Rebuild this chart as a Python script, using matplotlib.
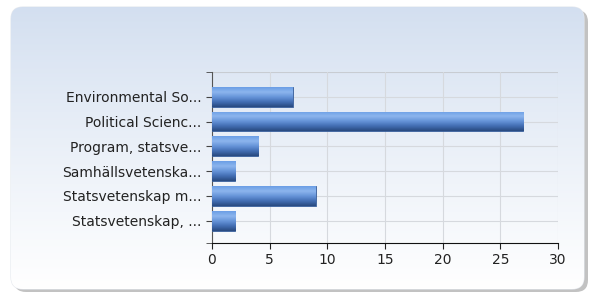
import matplotlib.pyplot as plt
import numpy as np
from matplotlib.patches import FancyBboxPatch

# data
labels = ['Environmental So...', 'Political Scienc...', 'Program, statsve...',
          'Samhällsvetenska...', 'Statsvetenskap m...', 'Statsvetenskap, ...']
values = [7, 27, 4, 2, 9, 2]
x_ticks = [0, 5, 10, 15, 20, 25, 30]

fig = plt.figure(figsize=(5.94, 2.96), dpi=100)

# rounded panel with gradient and a little shadow
bg = fig.add_axes([0, 0, 1, 1])
bg.set_xlim(0, 594)
bg.set_ylim(296, 0)
bg.axis('off')
shadow = FancyBboxPatch((14, 10), 574, 282, boxstyle='round,pad=0,rounding_size=12',
                        facecolor='#9a9a9a', edgecolor='none', alpha=0.6)
bg.add_patch(shadow)
panel = FancyBboxPatch((11, 7), 573, 282, boxstyle='round,pad=0,rounding_size=12',
                       facecolor='white', edgecolor='#e4e8ee', lw=0.8)
bg.add_patch(panel)
grad = np.linspace(0, 1, 256).reshape(-1, 1)
top = np.array([0.827, 0.874, 0.941])
bot = np.array([1.0, 1.0, 1.0])
img = top + (bot - top) * grad[..., None] ** 0.9
im = bg.imshow(img, extent=(11, 584, 289, 7), aspect='auto', zorder=2)
im.set_clip_path(panel)

ax = fig.add_axes([212 / 594, 1 - 243 / 296, 346 / 594, 171 / 296])
ax.patch.set_alpha(0)

y = np.arange(len(labels))
bars = ax.barh(y, values, height=0.8, color='#4a78c0', edgecolor='#3a5f9a', lw=0.6, zorder=3)

# vertical shading for each bar
shade = np.array([[0.42, 0.62, 0.90], [0.55, 0.71, 0.93], [0.40, 0.58, 0.85],
                  [0.26, 0.43, 0.70], [0.16, 0.29, 0.50]])
ramp = np.linspace(0, 1, 64)
cols = np.stack([np.interp(ramp, np.linspace(0, 1, 5), shade[:, k]) for k in range(3)], axis=-1)
cols = cols[:, None, :]
for b in bars:
    x0, y0, w, h = b.get_x(), b.get_y(), b.get_width(), b.get_height()
    g = ax.imshow(cols, extent=(x0, x0 + w, y0 + h, y0), aspect='auto', zorder=3.5,
                  interpolation='bilinear')
    g.set_clip_path(b)

ax.set_xlim(0, 30)
ax.set_ylim(5.9, -1)
ax.set_xticks(x_ticks)
ax.set_yticks(y)
ax.set_yticklabels(labels)
ax.set_yticks([-1, 5.9], minor=True)
ax.tick_params(axis='y', which='minor', length=4, color='#444444')
ax.tick_params(axis='both', labelsize=10, colors='#222222', length=4)
ax.tick_params(axis='y', color='#444444')

ax.grid(True, color='#d6d9de', lw=0.8, zorder=0)
for s in ['top', 'right']:
    ax.spines[s].set_visible(False)
ax.spines['left'].set_color('#555555')
ax.spines['bottom'].set_color('#111111')
ax.axhline(-1, color='#c8ccd2', lw=0.8, zorder=1)

fig.savefig('out.png', dpi=100)
